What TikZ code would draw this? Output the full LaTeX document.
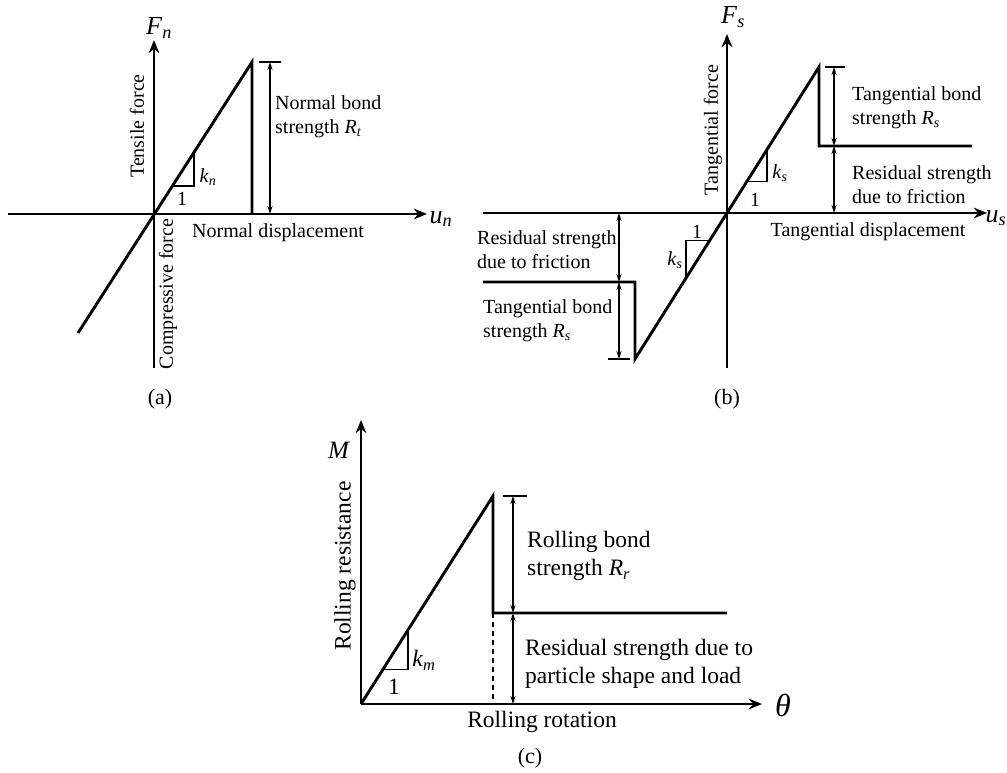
\documentclass[tikz,border=0pt]{standalone}
\usepackage{fontspec}
\setmainfont{Liberation Serif}
\usetikzlibrary{arrows.meta,calc}
\newcommand{\isub}[2]{\textit{#1}\textsubscript{\textit{#2}}}
\begin{document}
\begin{tikzpicture}[x=1pt,y=-1pt,
  axis/.style={line width=2.7pt,-{Stealth[length=13pt,width=10.5pt,inset=4pt]}},
  curve/.style={line width=2.9pt,line join=miter},
  thinline/.style={line width=1.2pt},
  dimarrow/.style={line width=1.2pt,{Stealth[length=8pt,width=5pt]}-{Stealth[length=8pt,width=5pt]}},
  lab/.style={font=\fontsize{20}{24}\selectfont,inner sep=0pt},
  labc/.style={font=\fontsize{23.5}{28}\selectfont,inner sep=0pt},
  captext/.style={font=\fontsize{22}{26}\selectfont,inner sep=0pt},
  axlab/.style={font=\fontsize{26}{30}\selectfont,inner sep=0pt}]
\useasboundingbox (0,0) rectangle (1007,773);

% ---------------- panel (a)
\coordinate (a0) at (154,214);
\coordinate (axL) at (8,214);
\coordinate (axR) at (427,214);
\coordinate (ayB) at (154,368);
\coordinate (ayT) at (154,40);
\draw[axis] (axL) -- (axR);
\draw[axis] (ayB) -- (ayT);
\coordinate (aLow) at (78,333);
\coordinate (aPk) at (252,62);
\coordinate (aFoot) at (252,214);
\draw[curve] (aLow) -- (aPk) -- (aFoot);
\coordinate (aTk1) at (259,62);
\coordinate (aTk2) at (281,62);
\draw[thinline] (aTk1) -- (aTk2);
\coordinate (aD1) at (270,62);
\coordinate (aD2) at (270,214);
\draw[dimarrow] (aD1) -- (aD2);
\coordinate (aP1) at ($(a0)!0.184!(aPk)$);
\coordinate (aP2) at ($(a0)!0.408!(aPk)$);
\draw[thinline] (aP1) -- (aP1 -| aP2) -- (aP2);
\node[axlab] (Fn) at (159,28) {\isub{F}{n}};
\node[axlab] (un) at (441,219) {\isub{u}{n}};
\node[lab,rotate=90] (tens) at (137,126) {Tensile force};
\node[lab,rotate=90] (comp) at (168,294) {Compressive force};
\node[lab] (ndisp) at (278,233) {Normal displacement};
\node[lab,anchor=west,align=left] (nbond) at (275,117) {Normal bond\\strength \isub{R}{t}};
\node[lab] (kn) at (208,177) {\isub{k}{n}};
\node[lab] (one1) at (182,199) {1};
\node[captext] (capa) at (160,399) {(a)};

% ---------------- panel (b)
\coordinate (b0) at (727,213);
\coordinate (bxL) at (483,213);
\coordinate (bxR) at (987,213);
\coordinate (byB) at (727,368);
\coordinate (byT) at (727,34);
\draw[axis] (bxL) -- (bxR);
\draw[axis] (byB) -- (byT);
\coordinate (bRes) at (972,146);
\coordinate (bDrop) at (819,146);
\coordinate (bPk) at (819,67);
\coordinate (bLow) at (635,359);
\coordinate (bRise) at (635,282);
\coordinate (bResL) at (483,282);
\draw[curve] (bRes) -- (bDrop) -- (bPk) -- (bLow) -- (bRise) -- (bResL);
\coordinate (bTk1) at (825,67);
\coordinate (bTk2) at (845,67);
\draw[thinline] (bTk1) -- (bTk2);
\coordinate (bTk3) at (608,359);
\coordinate (bTk4) at (630,359);
\draw[thinline] (bTk3) -- (bTk4);
\coordinate (bD1) at (834,67);
\coordinate (bD2) at (834,146);
\coordinate (bD3) at (834,213);
\draw[dimarrow] (bD1) -- (bD2);
\draw[dimarrow] (bD2) -- (bD3);
\coordinate (bD4) at (619,213);
\coordinate (bD5) at (619,282);
\coordinate (bD6) at (619,359);
\draw[dimarrow] (bD4) -- (bD5);
\draw[dimarrow] (bD5) -- (bD6);
\coordinate (bP1) at ($(b0)!0.217!(bPk)$);
\coordinate (bP2) at ($(b0)!0.435!(bPk)$);
\draw[thinline] (bP1) -- (bP1 -| bP2) -- (bP2);
\coordinate (bQ1) at ($(b0)!0.19!(bLow)$);
\coordinate (bQ2) at ($(b0)!0.446!(bLow)$);
\draw[thinline] (bQ1) -- (bQ1 -| bQ2) -- (bQ2);
\node[axlab] (Fs) at (733,17) {\isub{F}{s}};
\node[axlab] (us) at (996,218) {\isub{u}{s}};
\node[lab,rotate=90] (tanf) at (713,130) {Tangential force};
\node[lab] (tdisp) at (868,232) {Tangential displacement};
\node[lab,anchor=west,align=left] (tbond1) at (852,108) {Tangential bond\\strength \isub{R}{s}};
\node[lab,anchor=west,align=left] (resf1) at (852,185) {Residual strength\\due to friction};
\node[lab,anchor=west,align=left] (resf2) at (477,250) {Residual strength\\due to friction};
\node[lab,anchor=west,align=left] (tbond2) at (483,321) {Tangential bond\\strength \isub{R}{s}};
\node[lab] (ks1) at (780,173) {\isub{k}{s}};
\node[lab] (one2) at (755,200) {1};
\node[lab] (one3) at (697,232) {1};
\node[lab] (ks2) at (675,260) {\isub{k}{s}};
\node[captext] (capb) at (727,399) {(b)};

% ---------------- panel (c)
\coordinate (c0) at (361,704);
\coordinate (cyT) at (361,420);
\coordinate (cxR) at (762,704);
\draw[axis] (c0) -- (cyT);
\draw[axis] (c0) -- (cxR);
\coordinate (cPk) at (493,496);
\coordinate (cDrop) at (493,613);
\coordinate (cRes) at (727,613);
\coordinate (cFoot) at (493,704);
\draw[curve] (c0) -- (cPk) -- (cDrop) -- (cRes);
\draw[thinline,dash pattern=on 5pt off 4pt] (cDrop) -- (cFoot);
\coordinate (cTk1) at (503,496);
\coordinate (cTk2) at (527,496);
\draw[thinline] (cTk1) -- (cTk2);
\coordinate (cD1) at (513,496);
\coordinate (cD2) at (513,613);
\coordinate (cD3) at (513,704);
\draw[dimarrow] (cD1) -- (cD2);
\draw[dimarrow] (cD2) -- (cD3);
\coordinate (cP1) at ($(c0)!0.167!(cPk)$);
\coordinate (cP2) at ($(c0)!0.356!(cPk)$);
\draw[thinline] (cP1) -- (cP1 -| cP2) -- (cP2);
\node[font=\fontsize{25}{30}\selectfont,inner sep=0pt] (M) at (339,450) {\textit{M}};
\node[font=\fontsize{32}{36}\selectfont,inner sep=0pt] (th) at (783,705) {\textit{θ}};
\node[labc,rotate=90] (rres) at (345,566) {Rolling resistance};
\node[labc] (rrot) at (542,722) {Rolling rotation};
\node[labc,anchor=west,align=left] (rbond) at (527,556) {Rolling bond\\strength \isub{R}{r}};
\node[labc,anchor=west,align=left] (rresid) at (525,664) {Residual strength due to\\particle shape and load};
\node[labc] (km) at (424,660) {\isub{k}{m}};
\node[labc] (one4) at (394,687) {1};
\node[captext] (capc) at (530,758) {(c)};
\end{tikzpicture}
\end{document}
